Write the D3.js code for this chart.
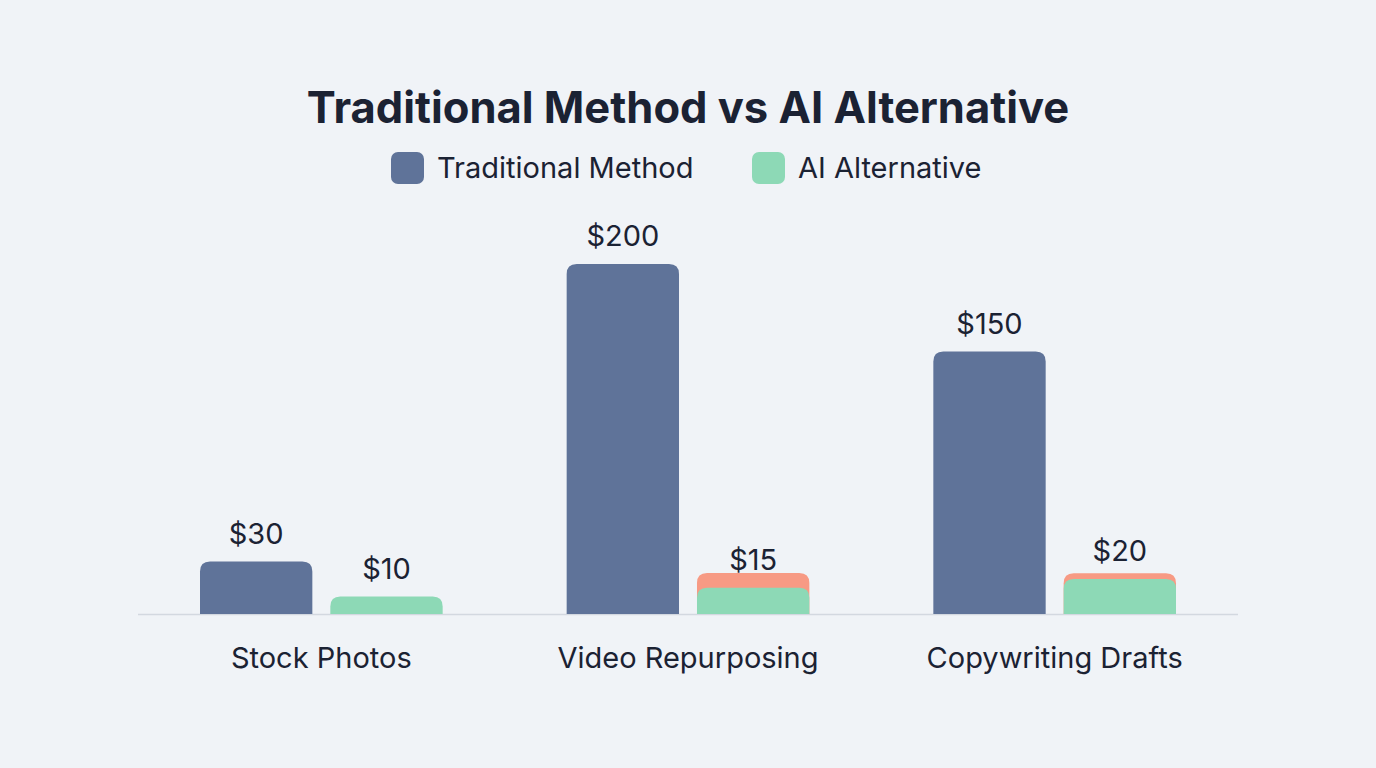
<!DOCTYPE html>
<html>
<head>
<meta charset="utf-8">
<script src="https://cdn.jsdelivr.net/npm/d3@7"></script>
<style>
  html, body { margin: 0; padding: 0; background: #f0f3f7; }
  svg { display: block; font-family: Inter, "Noto Sans", sans-serif; }
</style>
</head>
<body>
<div id="chart"></div>
<script>
// chart data
var categories = ["Stock Photos", "Video Repurposing", "Copywriting Drafts"];
var seriesNames = ["Traditional Method", "AI Alternative"];
var traditionalCost = [30, 200, 150];
var aiCost = [10, 15, 20];
// salmon band showing behind the AI bars
var aiBackdrop = [0, 23.5, 23.3];

var colors = { "Traditional Method": "#5f7399", "AI Alternative": "#8dd9b6" };
var backdropColor = "#f79a84";
var textColor = "#1b2233";

var width = 1376, height = 768;
var margin = { left: 138, right: 138, top: 264, bottom: 154 };

var svg = d3.select("#chart")
  .append("svg")
  .attr("width", width)
  .attr("height", height);

svg.append("rect")
  .attr("width", width)
  .attr("height", height)
  .attr("fill", "#f0f3f7");

var x0 = d3.scaleBand()
  .domain(categories)
  .range([margin.left, width - margin.right])
  .paddingInner(0)
  .paddingOuter(0);

var x1 = d3.scaleBand()
  .domain(seriesNames)
  .range([62, x0.bandwidth() - 62])
  .paddingInner(0.138);

var y = d3.scaleLinear()
  .domain([0, 200])
  .range([height - margin.bottom, margin.top]);

// title
svg.append("text")
  .attr("x", width / 2)
  .attr("y", 123)
  .attr("text-anchor", "middle")
  .style("font-size", "43.5px")
  .style("font-weight", "700")
  .style("fill", textColor)
  .text("Traditional Method vs AI Alternative");

// legend
var legendItems = [
  { name: "Traditional Method", x: 391 },
  { name: "AI Alternative", x: 752 }
];
var legend = svg.selectAll(".legend")
  .data(legendItems)
  .enter()
  .append("g")
  .attr("class", "legend")
  .attr("transform", function (d) { return "translate(" + d.x + ",152)"; });
legend.append("rect")
  .attr("width", 33)
  .attr("height", 32)
  .attr("rx", 7)
  .attr("fill", function (d) { return colors[d.name]; });
legend.append("text")
  .attr("x", 46)
  .attr("y", 26)
  .style("font-size", "29px")
  .style("fill", textColor)
  .text(function (d) { return d.name; });

// rounded-top bar path
function topRounded(x, yTop, w, h, r) {
  r = Math.min(r, h, w / 2);
  var yb = yTop + h;
  return "M" + x + "," + yb +
    "V" + (yTop + r) +
    "Q" + x + "," + yTop + " " + (x + r) + "," + yTop +
    "H" + (x + w - r) +
    "Q" + (x + w) + "," + yTop + " " + (x + w) + "," + (yTop + r) +
    "V" + yb + "Z";
}

var rows = categories.map(function (c, i) {
  return {
    category: c,
    values: [
      { series: "Traditional Method", value: traditionalCost[i], backdrop: 0 },
      { series: "AI Alternative", value: aiCost[i], backdrop: aiBackdrop[i] }
    ]
  };
});

// baseline
svg.append("line")
  .attr("x1", margin.left)
  .attr("x2", width - margin.right)
  .attr("y1", y(0) + 0.5)
  .attr("y2", y(0) + 0.5)
  .attr("stroke", "#d3d8e0")
  .attr("stroke-width", 1.5);

var groups = svg.selectAll(".group")
  .data(rows)
  .enter()
  .append("g")
  .attr("class", "group")
  .attr("transform", function (d) { return "translate(" + x0(d.category) + ",0)"; });

// backdrop behind the AI bars
groups.selectAll(".backdrop")
  .data(function (d) { return d.values.filter(function (v) { return v.backdrop > 0; }); })
  .enter()
  .append("path")
  .attr("class", "backdrop")
  .attr("fill", backdropColor)
  .attr("d", function (d) {
    return topRounded(x1(d.series), y(d.backdrop), x1.bandwidth(), y(0) - y(d.backdrop), 10);
  });

groups.selectAll(".bar")
  .data(function (d) { return d.values; })
  .enter()
  .append("path")
  .attr("class", "bar")
  .attr("fill", function (d) { return colors[d.series]; })
  .attr("d", function (d) {
    return topRounded(x1(d.series), y(d.value), x1.bandwidth(), y(0) - y(d.value), 10);
  });

// value labels
groups.selectAll(".value")
  .data(function (d) { return d.values; })
  .enter()
  .append("text")
  .attr("class", "value")
  .attr("x", function (d) { return x1(d.series) + x1.bandwidth() / 2; })
  .attr("y", function (d) { return y(d.value) - 18; })
  .attr("text-anchor", "middle")
  .style("font-size", "29px")
  .style("fill", textColor)
  .text(function (d) { return "$" + d.value; });

// category labels
groups.append("text")
  .attr("x", x0.bandwidth() / 2)
  .attr("y", 668)
  .attr("text-anchor", "middle")
  .style("font-size", "29px")
  .style("fill", textColor)
  .text(function (d) { return d.category; });
</script>
</body>
</html>
